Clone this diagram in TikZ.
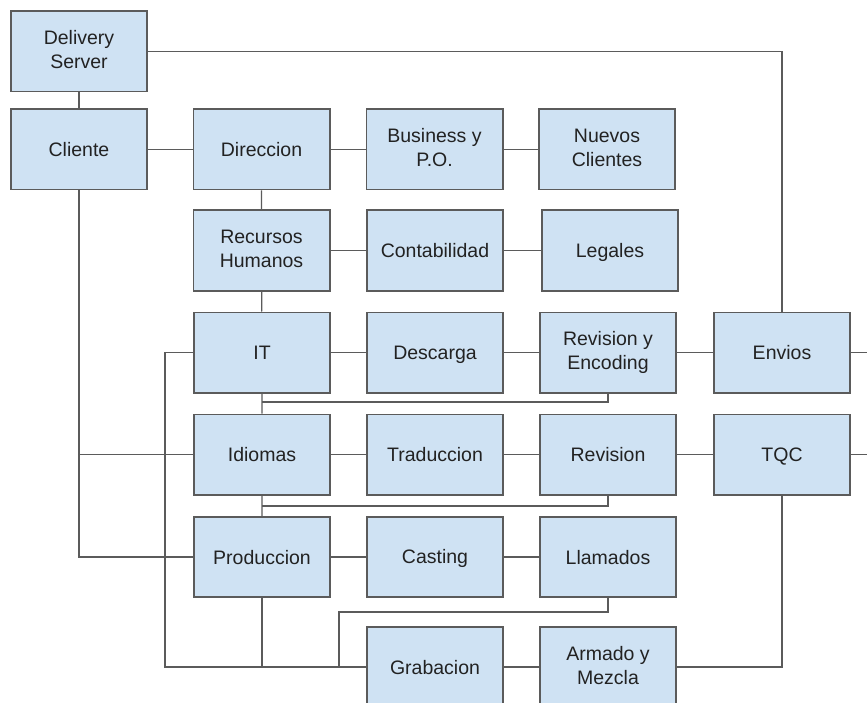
\documentclass[tikz,border=0pt]{standalone}
\usepackage{fontspec}
\setmainfont{Liberation Sans}
\definecolor{boxfill}{HTML}{CFE2F3}
\definecolor{boxline}{HTML}{5B5B5B}
\definecolor{textgray}{HTML}{222222}

\begin{document}
\begin{tikzpicture}[x=1pt,y=-1pt,
    area/.style={draw=boxline, fill=boxfill, line width=1.6pt, minimum width=136.4pt,
      minimum height=80.4pt, inner sep=2pt, align=center, text=textgray,
      font=\fontsize{19.5}{24}\selectfont,
      execute at begin node=\rule{0pt}{18pt},
      execute at end node=\rule[-4pt]{0pt}{4pt}},
    link/.style={draw=boxline, line width=1.3pt}]
    \useasboundingbox (0,0) rectangle (867,703);
    \clip (0,0) rectangle (867,703);% bottom row runs off the page

    % Column 1
    \node[area] (dserver)    at (79,51.5)    {Delivery\\Server};
    \node[area] (cliente)    at (79,149.5)   {Cliente};
    % Column 2
    \node[area] (direccion)  at (261.5,149.5) {Direccion};
    \node[area] (rrhh)       at (261.5,250.5) {Recursos\\Humanos};
    \node[area] (it)         at (262,352.5)   {IT};
    \node[area] (idiomas)    at (262,454.5)   {Idiomas};
    \node[area] (produccion) at (262,557)     {Produccion};
    % Column 3
    \node[area] (business)   at (434.5,149.5) {Business y\\P.O.};
    \node[area] (contab)     at (435,250.5)   {Contabilidad};
    \node[area] (descarga)   at (435,352.5)   {Descarga};
    \node[area] (traduccion) at (435,454.5)   {Traduccion};
    \node[area] (casting)    at (435,557)     {Casting};
    \node[area] (grabacion)  at (435,667)     {Grabacion};
    % Column 4
    \node[area] (nuevos)     at (607,149.5)   {Nuevos\\Clientes};
    \node[area] (legales)    at (610,250.5)   {Legales};
    \node[area] (revenc)     at (608,352.5)   {Revision y\\Encoding};
    \node[area] (revision)   at (608,454.5)   {Revision};
    \node[area] (llamados)   at (608,557)     {Llamados};
    \node[area] (armado)     at (608,667)     {Armado y\\Mezcla};
    % Column 5
    \node[area] (envios)     at (782,352.5)   {Envios};
    \node[area] (tqc)        at (782,454.5)   {TQC};

    \coordinate (envout)   at (867,352.5);
    \coordinate (tqcout)   at (867,454.5);
    \coordinate (leftbus)  at (165,352.5);
    \coordinate (itbus)    at (262,402);
    \coordinate (idbus)    at (262,506);
    \coordinate (castjoin) at (339,667);

    % Rows
    \draw[link] (cliente) -- (direccion) -- (business) -- (nuevos);
    \draw[link] (rrhh) -- (contab) -- (legales);
    \draw[link] (it) -- (descarga) -- (revenc) -- (envios) -- (envout);
    \draw[link] (idiomas) -- (traduccion) -- (revision) -- (tqc) -- (tqcout);
    \draw[link] (produccion) -- (casting) -- (llamados);
    \draw[link] (grabacion) -- (armado);

    % Trunk and branches
    \draw[link] (dserver) -- (cliente);
    \draw[link] (dserver.east) -| (envios.north);
    \draw[link] (direccion) -- (rrhh) -- (it) -- (idiomas) -- (produccion);
    \draw[link] (itbus) -| (revenc.south);
    \draw[link] (idbus) -| (revision.south);
    \draw[link] (cliente.south) |- (produccion.west);
    \draw[link] (cliente.south |- idiomas.west) -- (idiomas.west);
    \draw[link] (it.west) -- (leftbus) |- (grabacion.west);
    \draw[link] (produccion.south) |- (grabacion.west);
    \draw[link] (llamados.south) -- ++(0,14) -| (castjoin);
    \draw[link] (armado.east) -| (tqc.south);
\end{tikzpicture}
\end{document}
